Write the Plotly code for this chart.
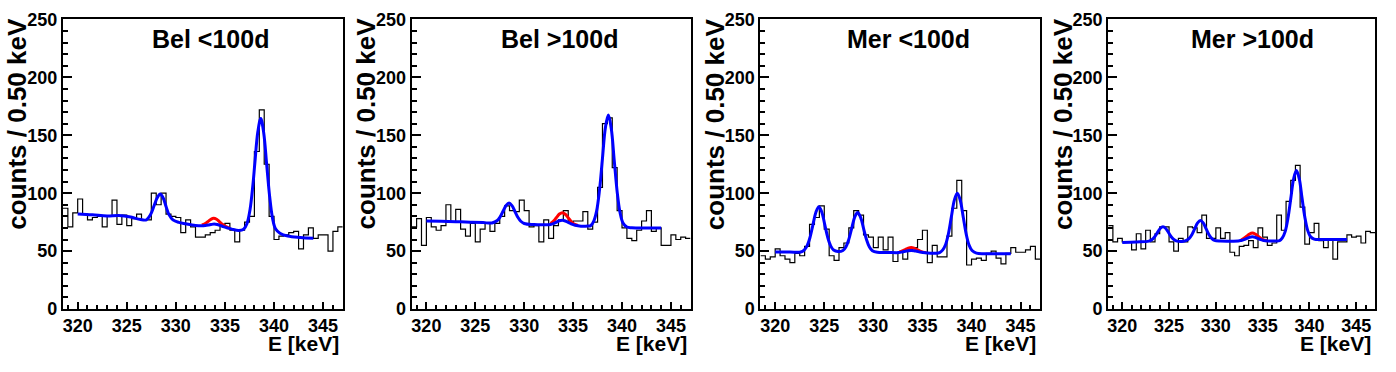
import plotly.graph_objects as go

# ── Canvas ────────────────────────────────────────────────────────────────────
W, H = 1396, 372

# ── Binning (RooFit frame: 0.50 keV bins) ────────────────────────────────────
E_MIN, E_MAX, BIN_W = 318.5, 347.0, 0.5

TITLES = ["Bel &lt;100d", "Bel &gt;100d", "Mer &lt;100d", "Mer &gt;100d"]
Y_TITLE = "counts / 0.50 keV"
X_TITLE = "E [keV]"
X_TICKS = [320, 325, 330, 335, 340, 345]
Y_TICKS = [0, 50, 100, 150, 200, 250]

# ── Histogram counts per 0.5 keV bin, 318.5 .. 347 keV ───────────────────────
BEL_LT_COUNTS = [87, 71, 83, 95, 82, 77, 79, 80, 71, 80,
                 94, 73, 81, 72, 78, 82, 77, 77, 100, 90,
                 100, 82, 80, 79, 66, 77, 71, 62, 62, 64,
                 66, 68, 73, 74, 68, 58, 68, 75, 80, 136,
                 172, 125, 80, 60, 63, 64, 66, 67, 52, 64,
                 70, 61, 64, 64, 50, 67, 71]
BEL_GT_COUNTS = [71, 78, 55, 79, 71, 68, 72, 90, 75, 86,
                 69, 63, 74, 58, 69, 74, 67, 74, 80, 89,
                 85, 84, 94, 85, 71, 72, 58, 77, 61, 72,
                 77, 85, 75, 76, 76, 84, 69, 75, 105, 160,
                 165, 122, 85, 70, 61, 59, 68, 76, 85, 67,
                 70, 55, 55, 64, 60, 62, 61]
MER_LT_COUNTS = [46, 43, 45, 52, 46, 43, 40, 48, 46, 54,
                 73, 79, 89, 69, 46, 42, 53, 57, 70, 85,
                 81, 64, 62, 53, 62, 51, 62, 41, 49, 43,
                 51, 53, 60, 68, 40, 55, 45, 45, 63, 87,
                 111, 85, 38, 43, 44, 42, 48, 50, 44, 39,
                 48, 53, 49, 49, 51, 54, 43]
MER_GT_COUNTS = [72, 58, 61, 58, 58, 51, 65, 52, 68, 58,
                 65, 71, 71, 58, 50, 61, 58, 71, 70, 66,
                 81, 61, 61, 70, 61, 66, 49, 46, 54, 55,
                 59, 53, 70, 62, 55, 57, 81, 68, 93, 111,
                 124, 88, 56, 66, 74, 59, 53, 60, 43, 58,
                 58, 64, 62, 63, 57, 67, 66]

# ── Fit curves (blue: total fit, red: with extra 334 keV line) ───────────────
BEL_LT_FIT_X = [320.0, 321.5, 323.0, 324.2, 325.4, 326.4, 327.0, 327.4, 327.8, 328.1,
                328.4, 328.7, 329.0, 329.3, 329.7, 330.3, 331.0, 332.0, 332.7, 333.0,
                333.3, 333.6, 333.9, 334.2, 334.5, 334.8, 335.2, 335.7, 336.4, 336.9,
                337.25, 337.55, 337.85, 338.05, 338.35, 338.65, 338.95, 339.25, 339.55, 339.85,
                340.15, 340.6, 341.4, 342.7, 344.0]
BEL_LT_FIT_Y = [82.0, 81.3, 80.3, 80.7, 79.4, 77.2, 77.0, 81.2, 89.6, 96.0,
                99.2, 96.0, 88.6, 81.5, 77.0, 74.8, 73.6, 72.2, 71.9, 72.1,
                72.5, 73.0, 73.3, 73.0, 72.2, 71.2, 70.2, 69.0, 67.8, 68.8,
                73.9, 85.5, 107.4, 126.4, 153.0, 164.5, 152.0, 124.9, 97.5, 78.3,
                69.3, 65.5, 63.0, 61.7, 61.0]
BEL_LT_ALT_X = [332.65, 332.95, 333.25, 333.55, 333.85, 334.15, 334.45, 334.75, 335.05, 335.5]
BEL_LT_ALT_Y = [72.6, 73.6, 75.4, 77.3, 78.3, 77.5, 75.3, 73.0, 71.3, 69.6]

BEL_GT_FIT_X = [320.0, 321.5, 323.0, 324.5, 325.8, 326.7, 327.25, 327.55, 327.85, 328.15,
                328.45, 328.75, 329.05, 329.35, 329.65, 330.0, 331.0, 332.0, 332.7, 333.0,
                333.3, 333.6, 333.9, 334.2, 334.5, 334.8, 335.2, 335.8, 336.5, 336.8,
                337.1, 337.4, 337.7, 338.0, 338.3, 338.6, 338.9, 339.2, 339.5, 339.8,
                340.1, 340.5, 341.0, 342.5, 344.0]
BEL_GT_FIT_Y = [76.0, 75.7, 75.4, 75.0, 74.6, 74.3, 76.4, 79.7, 84.6, 89.4,
                91.5, 89.2, 84.3, 79.2, 75.8, 73.8, 72.9, 72.7, 73.0, 73.8,
                75.0, 76.2, 76.6, 76.0, 74.8, 73.5, 72.3, 71.5, 71.6, 72.0,
                75.7, 84.5, 102.9, 130.1, 156.6, 167.5, 155.8, 128.6, 101.4, 83.1,
                74.3, 70.8, 70.2, 70.0, 70.0]
BEL_GT_ALT_X = [332.7, 333.0, 333.3, 333.6, 333.9, 334.2, 334.5, 334.8, 335.1, 335.5]
BEL_GT_ALT_Y = [73.9, 75.9, 79.0, 82.0, 83.2, 81.8, 78.8, 75.6, 73.4, 72.2]

MER_LT_FIT_X = [320.0, 321.5, 322.6, 322.95, 323.25, 323.55, 323.85, 324.15, 324.45, 324.75,
                325.05, 325.35, 325.65, 325.95, 326.4, 326.9, 327.2, 327.5, 327.8, 328.1,
                328.4, 328.7, 329.0, 329.3, 329.6, 329.9, 330.4, 331.5, 332.6, 332.95,
                333.25, 333.55, 333.85, 334.15, 334.45, 334.75, 335.05, 335.5, 336.3, 336.75,
                337.05, 337.35, 337.65, 337.95, 338.25, 338.55, 338.85, 339.15, 339.45, 339.75,
                340.05, 340.5, 341.5, 344.0]
MER_LT_FIT_Y = [49.2, 49.2, 49.2, 50.9, 54.5, 61.9, 72.9, 83.6, 88.2, 83.6,
                72.9, 61.9, 54.5, 50.9, 49.6, 50.5, 53.6, 60.1, 69.8, 79.3,
                83.3, 79.2, 69.7, 60.0, 53.5, 50.3, 49.0, 48.8, 48.7, 49.3,
                49.85, 50.4, 50.6, 50.4, 49.8, 49.2, 48.8, 48.4, 48.2, 48.6,
                50.8, 55.5, 65.2, 79.8, 94.0, 100.0, 93.9, 79.6, 65.0, 55.2,
                50.5, 48.2, 47.8, 47.8]
MER_LT_ALT_X = [332.65, 332.95, 333.25, 333.55, 333.85, 334.15, 334.45, 334.75, 335.05, 335.4]
MER_LT_ALT_Y = [49.3, 50.1, 51.4, 52.6, 53.1, 52.6, 51.3, 50.0, 49.1, 48.5]

MER_GT_FIT_X = [320.0, 321.5, 322.85, 323.15, 323.45, 323.75, 324.05, 324.35, 324.65, 324.95,
                325.25, 325.55, 325.85, 326.4, 326.85, 327.15, 327.45, 327.75, 328.05, 328.35,
                328.65, 328.95, 329.25, 329.55, 329.85, 330.5, 331.5, 332.4, 332.7, 333.0,
                333.3, 333.6, 333.9, 334.2, 334.5, 334.8, 335.1, 335.6, 336.4, 336.8,
                337.1, 337.4, 337.7, 338.0, 338.3, 338.6, 338.9, 339.2, 339.5, 339.8,
                340.1, 340.5, 341.5, 344.0]
MER_GT_FIT_Y = [57.5, 57.9, 58.6, 59.8, 62.2, 65.9, 69.5, 71.0, 69.5, 65.9,
                62.2, 59.8, 58.6, 58.3, 59.3, 61.0, 64.4, 69.4, 74.4, 76.5,
                74.4, 69.4, 64.4, 61.0, 59.3, 58.7, 58.6, 58.7, 59.2, 59.9,
                60.9, 61.9, 62.3, 61.9, 60.9, 59.9, 59.2, 58.8, 58.7, 59.0,
                61.4, 66.8, 78.3, 95.2, 112.2, 119.5, 112.7, 96.0, 79.5, 68.1,
                62.6, 60.3, 60.0, 60.0]
MER_GT_ALT_X = [332.7, 333.0, 333.3, 333.6, 333.9, 334.2, 334.5, 334.8, 335.1, 335.5]
MER_GT_ALT_Y = [59.6, 61.0, 62.9, 64.8, 65.6, 64.8, 62.9, 61.0, 59.6, 58.9]

# ── Style ─────────────────────────────────────────────────────────────────────
FONT = "Liberation Sans, Arial, sans-serif"

# frame left/right edges in pixels, one per pad
FRAMES = [(62, 342), (411, 690), (760, 1040), (1108, 1375)]
FRAME_TOP, FRAME_BOTTOM = 10, 316
TITLE_CX = [210, 559, 908, 1252]

PANELS = [
    (BEL_LT_COUNTS, BEL_LT_FIT_X, BEL_LT_FIT_Y, BEL_LT_ALT_X, BEL_LT_ALT_Y),
    (BEL_GT_COUNTS, BEL_GT_FIT_X, BEL_GT_FIT_Y, BEL_GT_ALT_X, BEL_GT_ALT_Y),
    (MER_LT_COUNTS, MER_LT_FIT_X, MER_LT_FIT_Y, MER_LT_ALT_X, MER_LT_ALT_Y),
    (MER_GT_COUNTS, MER_GT_FIT_X, MER_GT_FIT_Y, MER_GT_ALT_X, MER_GT_ALT_Y),
]


def px_x(v):
    return v / W


def px_y(v):
    return 1 - v / H


def tick_font():
    return dict(family=FONT, size=18, color="black")


def bold(vals):
    return [f"<b>{v}</b>" for v in vals]


fig = go.Figure()
layout = {}
annotations = []

for i, (counts, fx, fy, ax_, ay_) in enumerate(PANELS):
    n = i + 1
    xa, ya = f"x{n}", f"y{n}"
    edges = [E_MIN + BIN_W * k for k in range(len(counts) + 1)]

    fig.add_trace(go.Scatter(
        x=edges, y=counts + [counts[-1]], mode="lines",
        line=dict(color="black", width=1.2, shape="hv"),
        xaxis=xa, yaxis=ya, hoverinfo="skip",
    ))
    fig.add_trace(go.Scatter(
        x=ax_, y=ay_, mode="lines",
        line=dict(color="#ff0000", width=3, shape="spline"),
        xaxis=xa, yaxis=ya,
    ))
    fig.add_trace(go.Scatter(
        x=fx, y=fy, mode="lines",
        line=dict(color="#0000ff", width=3, shape="spline"),
        xaxis=xa, yaxis=ya,
    ))

    left, right = FRAMES[i]
    suffix = "" if n == 1 else str(n)
    layout[f"xaxis{suffix}"] = dict(
        domain=[px_x(left), px_x(right)], anchor=ya, range=[E_MIN, E_MAX],
        showline=True, mirror=True, linecolor="black", linewidth=2,
        ticks="inside", ticklen=7, tickwidth=2, tickcolor="black",
        tickmode="array", tickvals=X_TICKS, ticktext=bold(X_TICKS),
        ticklabelstandoff=-1,
        minor=dict(ticks="inside", ticklen=4, tickwidth=1.5, tickcolor="black",
                   tick0=320, dtick=1, showgrid=False),
        showgrid=False, zeroline=False, tickfont=tick_font(),
    )
    layout[f"yaxis{suffix}"] = dict(
        domain=[px_y(FRAME_BOTTOM), px_y(FRAME_TOP)], anchor=xa, range=[0, 250],
        showline=True, mirror=True, linecolor="black", linewidth=2,
        ticks="inside", ticklen=9, tickwidth=2, tickcolor="black",
        tickmode="array", tickvals=Y_TICKS, ticktext=bold(Y_TICKS),
        ticklabeloverflow="allow",
        minor=dict(ticks="inside", ticklen=5, tickwidth=1.5, tickcolor="black",
                   tick0=0, dtick=10, showgrid=False),
        showgrid=False, zeroline=False, tickfont=tick_font(),
    )

    # pad title
    annotations.append(dict(
        text=TITLES[i], xref="paper", yref="paper",
        x=px_x(TITLE_CX[i]), y=px_y(31), xanchor="center", yanchor="middle",
        showarrow=False, font=dict(family=FONT, size=25, color="black", weight=700),
    ))
    # y-axis title, aligned to the top of the frame
    annotations.append(dict(
        text=Y_TITLE, xref="paper", yref="paper", textangle=-90,
        x=px_x(left - 46), y=px_y(6), xanchor="center", yanchor="top",
        showarrow=False, font=dict(family=FONT, size=26, color="black", weight=700),
    ))
    # x-axis title, aligned to the right end of the axis
    annotations.append(dict(
        text=X_TITLE, xref="paper", yref="paper",
        x=px_x(right - 2), y=px_y(352), xanchor="right", yanchor="middle",
        showarrow=False, font=dict(family=FONT, size=21, color="black", weight=700),
    ))

fig.update_layout(
    width=W, height=H,
    margin=dict(l=0, r=0, t=0, b=0),
    paper_bgcolor="white", plot_bgcolor="white",
    showlegend=False,
    annotations=annotations,
    **layout,
)

# drop the default 8px page margin so the figure sits at the window origin
fig.write_html("out.html", config={"displayModeBar": False},
               post_script="document.body.style.margin = '0';")
